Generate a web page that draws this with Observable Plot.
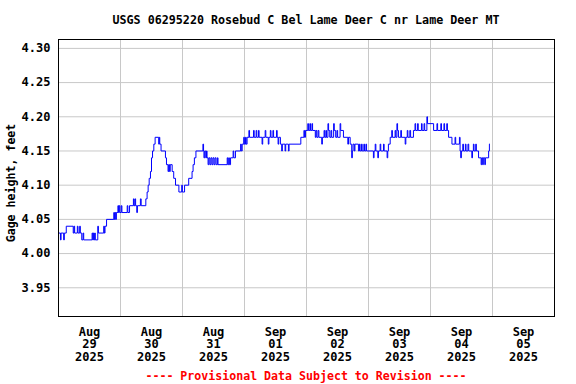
<!DOCTYPE html>
<html>
<head>
<meta charset="utf-8">
<script src="https://cdn.jsdelivr.net/npm/d3@7"></script>
<script src="https://cdn.jsdelivr.net/npm/@observablehq/plot@0.6"></script>
<style>
  html, body { margin: 0; padding: 0; background: #fff; }
  body { width: 576px; height: 384px; font-family: "DejaVu Sans Mono", monospace; font-weight: bold; }
  #title { box-sizing: border-box; height: 30px; padding-top: 14px; padding-left: 36px; line-height: 12px; font-size: 11.7px; text-align: center; color: #000; white-space: pre; }
  #footer { box-sizing: border-box; height: 14px; padding-left: 36px; line-height: 12px; font-size: 11.6px; text-align: center; color: #ff0000; white-space: pre; }
  #chart svg { display: block; }
</style>
</head>
<body>
<div id="title">USGS 06295220 Rosebud C Bel Lame Deer C nr Lame Deer MT</div>
<div id="chart"></div>
<div id="footer">---- Provisional Data Subject to Revision ----</div>
<script>
// Gage height readings [hour of day, feet], one array per day
const aug29 = [[0,4.03],[0.75,4.02],[1,4.03],[2,4.02],[2.25,4.03],[3,4.04],[5.7,4.03],[6,4.04],[6.25,4.03],[7.3,4.04],[7.55,4.03],[8.2,4.04],[8.45,4.03],[9,4.02],[9.5,4.03],[9.75,4.02],[13,4.03],[13.25,4.02],[13.5,4.03],[13.75,4.02],[14,4.03],[14.25,4.02],[15.2,4.04],[15.45,4.03],[17.5,4.04],[17.75,4.03],[18,4.04],[18.6,4.05],[21.4,4.06],[21.65,4.05],[21.9,4.06],[22.15,4.05],[22.4,4.06],[23,4.07],[23.25,4.06],[23.5,4.07],[23.75,4.06]];
const aug30 = [[0.3,4.07],[0.55,4.06],[2.6,4.07],[2.85,4.06],[3.5,4.07],[5,4.08],[5.25,4.07],[5.6,4.08],[5.85,4.07],[6.3,4.06],[6.55,4.07],[7.7,4.08],[8,4.07],[9.8,4.08],[10.3,4.09],[10.7,4.10],[11.1,4.11],[11.6,4.12],[12,4.14],[12.4,4.15],[12.9,4.16],[13.4,4.17],[14.8,4.16],[15,4.17],[15.2,4.16],[15.7,4.15],[17.4,4.14],[17.8,4.13],[18.4,4.12],[18.65,4.13],[19,4.12],[19.25,4.13],[20,4.12],[20.6,4.11],[21.3,4.10],[22.6,4.09],[23.7,4.10],[23.95,4.09]];
const aug31 = [[0.8,4.10],[2.4,4.11],[3.7,4.12],[4.1,4.13],[4.6,4.14],[5.2,4.15],[7.9,4.16],[8.15,4.15],[8.3,4.14],[8.6,4.15],[9,4.14],[9.3,4.15],[9.5,4.14],[9.9,4.13],[10.2,4.14],[10.6,4.13],[11,4.14],[11.4,4.13],[11.8,4.14],[12.2,4.13],[12.6,4.14],[13,4.13],[13.5,4.14],[13.75,4.13],[17.3,4.14],[17.55,4.13],[17.9,4.14],[18.15,4.13],[18.6,4.14],[19.6,4.15],[19.85,4.14],[20.5,4.15],[22.5,4.16],[22.75,4.15],[23.1,4.16],[23.7,4.17],[23.95,4.16]];
const sep01 = [[0.4,4.17],[0.65,4.16],[1,4.17],[1.7,4.18],[1.95,4.17],[3.5,4.18],[3.75,4.17],[4.5,4.18],[4.75,4.17],[5.4,4.18],[5.65,4.17],[6.8,4.16],[7.05,4.17],[8,4.18],[8.25,4.17],[9.2,4.16],[9.45,4.17],[10,4.18],[10.25,4.17],[11,4.18],[11.25,4.17],[12.4,4.18],[12.65,4.17],[13,4.16],[13.25,4.17],[13.9,4.16],[14.4,4.15],[14.65,4.16],[15.7,4.15],[15.95,4.16],[17,4.15],[17.25,4.16],[21.8,4.17],[23,4.18],[23.25,4.17],[23.6,4.18]];
const sep02 = [[0.5,4.19],[0.75,4.18],[1.3,4.19],[1.55,4.18],[2.1,4.19],[2.35,4.18],[3.4,4.17],[3.7,4.18],[4,4.17],[4.5,4.18],[4.8,4.17],[5.9,4.16],[6.15,4.17],[6.8,4.18],[7.05,4.17],[7.5,4.18],[7.75,4.17],[8.3,4.19],[8.55,4.18],[9,4.17],[9.5,4.18],[9.75,4.17],[10.5,4.19],[10.75,4.18],[11.3,4.17],[11.8,4.18],[12.05,4.17],[13,4.19],[13.25,4.18],[14.3,4.17],[16,4.16],[16.25,4.17],[16.9,4.16],[17.5,4.14],[17.75,4.15],[18,4.16],[18.5,4.15],[18.75,4.16],[20.1,4.15],[20.5,4.16],[20.75,4.15],[21.3,4.16],[21.55,4.15],[22.2,4.16],[22.45,4.15],[23,4.16],[23.25,4.15]];
const sep03 = [[1.9,4.14],[2.15,4.15],[2.6,4.16],[2.85,4.15],[3.6,4.14],[3.85,4.15],[4.5,4.16],[4.75,4.15],[5.8,4.16],[6.05,4.15],[7.2,4.14],[7.45,4.15],[7.7,4.16],[8.4,4.17],[9,4.18],[9.25,4.17],[10.3,4.18],[10.55,4.17],[11,4.19],[11.25,4.18],[11.6,4.17],[12.5,4.18],[12.75,4.17],[14.2,4.16],[14.45,4.17],[15,4.18],[15.25,4.17],[16,4.18],[16.3,4.17],[17.4,4.18],[18,4.19],[18.25,4.18],[19,4.19],[19.25,4.18],[20.5,4.19],[20.75,4.18],[21.5,4.19],[21.75,4.18],[22.6,4.20],[22.85,4.19]];
const sep04 = [[1.2,4.18],[2.5,4.19],[2.75,4.18],[4,4.19],[4.25,4.18],[5.2,4.19],[5.45,4.18],[6.3,4.19],[6.55,4.18],[7,4.17],[8.3,4.16],[9.5,4.17],[9.75,4.16],[11.2,4.17],[11.45,4.15],[11.7,4.14],[11.95,4.15],[12.5,4.16],[12.75,4.15],[13.5,4.16],[13.75,4.15],[14.5,4.16],[14.8,4.15],[16,4.14],[16.25,4.15],[16.6,4.16],[16.85,4.15],[17.5,4.16],[17.75,4.15],[18.6,4.14],[19.6,4.13],[19.85,4.14],[20.2,4.13],[20.45,4.14],[21,4.13],[21.25,4.14],[22.5,4.15],[22.8,4.16],[23.0,4.16]];

// Axis labels
const tickMonths = ["Aug","Aug","Aug","Sep","Sep","Sep","Sep","Sep"];
const tickDays = ["29","30","31","01","02","03","04","05"];
const tickYears = ["2025","2025","2025","2025","2025","2025","2025","2025"];
const yTicks = [3.95, 4.00, 4.05, 4.10, 4.15, 4.20, 4.25, 4.30];
const yLabel = "Gage height, feet";

const dayArrays = [aug29, aug30, aug31, sep01, sep02, sep03, sep04];
const data = dayArrays.flatMap((arr, i) =>
  arr.map(([h, v]) => ({t: new Date(Date.UTC(2025, 7, 29 + i) + h * 3600e3), v}))
);
const labelDates = tickDays.map((_, i) => new Date(Date.UTC(2025, 7, 29 + i, 12)));
const gridDates = d3.range(1, 8).map(i => new Date(Date.UTC(2025, 7, 29 + i)));

const chart = Plot.plot({
  width: 576,
  height: 340,
  marginTop: 9,
  marginBottom: 54,
  marginLeft: 58,
  marginRight: 22,
  style: {fontFamily: "DejaVu Sans Mono, monospace", fontWeight: "bold", fontSize: "12px", color: "#000", background: "#fff"},
  x: {type: "utc", domain: [new Date(Date.UTC(2025, 7, 29)), new Date(Date.UTC(2025, 8, 6))], axis: null},
  y: {domain: [3.908, 4.313]},
  marks: [
    Plot.gridX(gridDates, {stroke: "#c8c8c8", strokeOpacity: 1}),
    Plot.gridY(yTicks, {stroke: "#c8c8c8", strokeOpacity: 1}),
    Plot.axisY(yTicks, {tickSize: 0, tickPadding: 8, tickFormat: d => d.toFixed(2), label: null, fontSize: 12, fontWeight: "bold"}),
    Plot.text(labelDates, {x: d => d, frameAnchor: "bottom", dy: 10, lineAnchor: "top", lineHeight: 1.06, fontSize: 12,
      text: (d, i) => `${tickMonths[i]}\n${tickDays[i]}\n${tickYears[i]}`}),
    Plot.text([yLabel], {frameAnchor: "left", textAnchor: "middle", dx: -47, dy: 5, rotate: -90, text: d => d, fontSize: 11.6}),
    Plot.line(data, {x: "t", y: "v", curve: "step-after", stroke: "#0000ff", strokeWidth: 1}),
    Plot.frame({stroke: "#000"})
  ]
});
document.getElementById("chart").appendChild(chart);
</script>
</body>
</html>
